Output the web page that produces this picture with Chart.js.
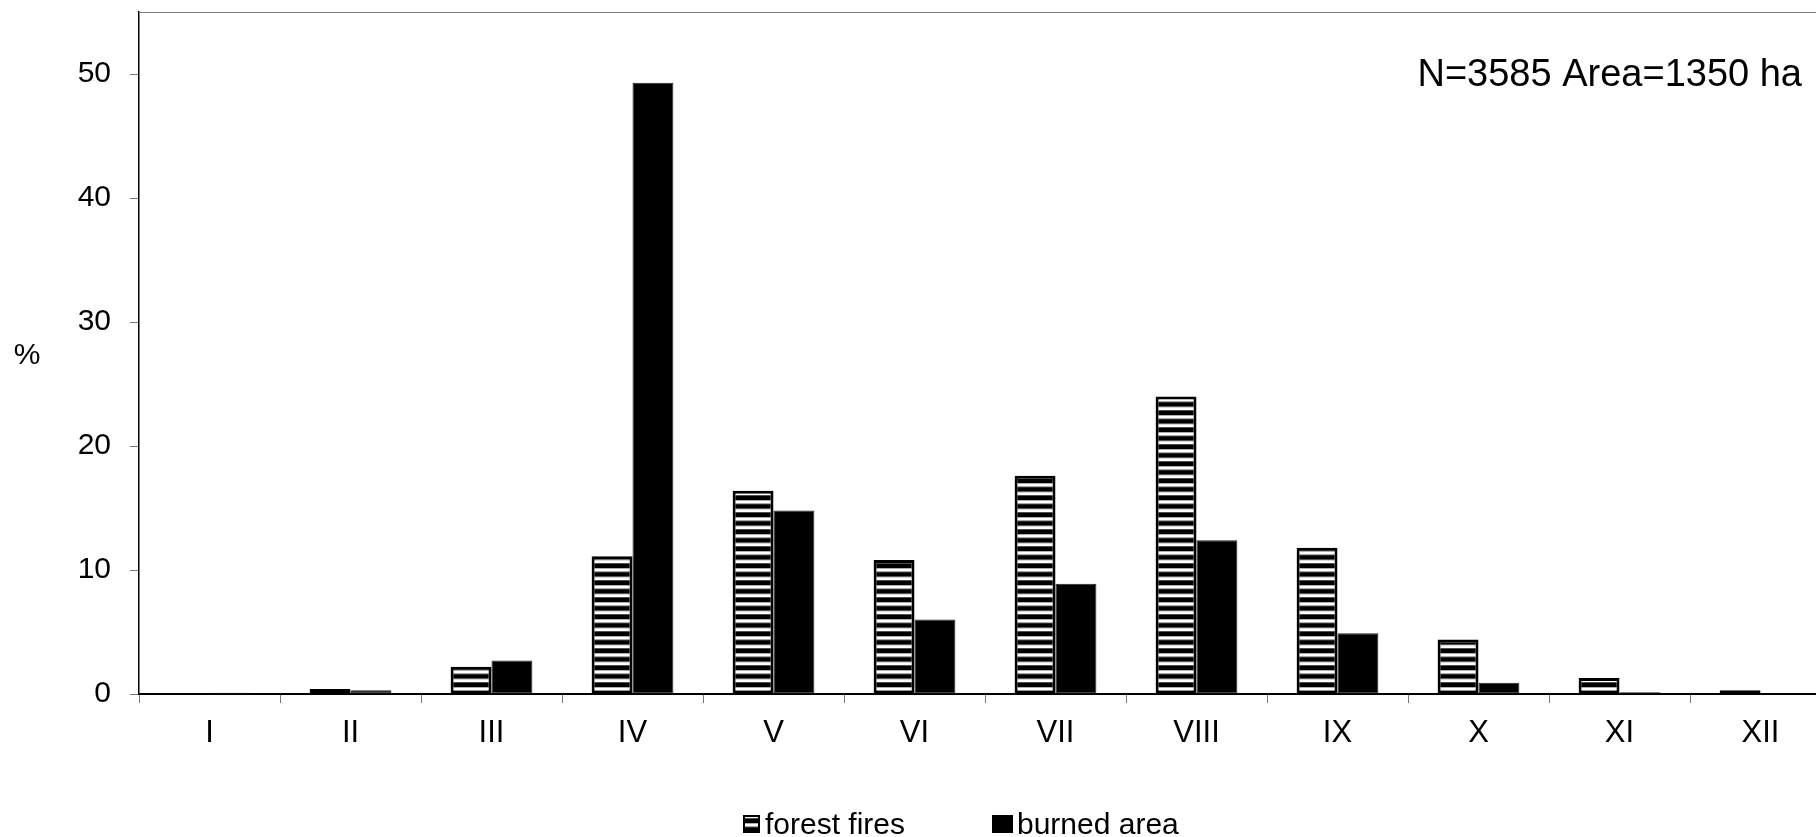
<!DOCTYPE html>
<html>
<head>
<meta charset="utf-8">
<script src="https://cdn.jsdelivr.net/npm/chart.js@4/dist/chart.umd.min.js"></script>
<style>
  html, body { margin: 0; padding: 0; overflow: hidden; background: #fff; }
  #wrap { width: 1840px; height: 837px; }
</style>
</head>
<body>
<div id="wrap"><canvas id="chart" width="1840" height="837"></canvas></div>
<script>
// months in roman numerals, values in % of total
const months = ['I', 'II', 'III', 'IV', 'V', 'VI', 'VII', 'VIII', 'IX', 'X', 'XI', 'XII']
const forestFires = [0.03, 0.4, 2.2, 11.1, 16.4, 10.8, 17.6, 24.0, 11.8, 4.4, 1.3, 0.3]
const burnedArea = [0.1, 0.3, 2.7, 49.3, 14.8, 6.0, 8.9, 12.4, 4.9, 0.9, 0.15, 0.07]
const yTicks = [0, 10, 20, 30, 40, 50]
const seriesNames = ['forest fires', 'burned area']
const note = 'N=3585 Area=1350 ha'
const yTitle = '%'

const FONT = '"Liberation Sans", Arial, sans-serif'

const canvas = document.getElementById('chart')
const ctx = canvas.getContext('2d')

// black fill with thin white horizontal stripes
function makeStripes() {
  const c = document.createElement('canvas')
  c.width = 4
  c.height = 17
  const p = c.getContext('2d')
  p.fillStyle = '#000'
  p.fillRect(0, 0, 4, 17)
  p.fillStyle = '#fff'
  p.fillRect(0, 0, 4, 3.5)
  p.fillRect(0, 8.5, 4, 3.5)
  const pat = ctx.createPattern(c, 'repeat')
  pat.setTransform(new DOMMatrix().translate(0, 7.3))
  return pat
}

const stripes = makeStripes()

const extras = {
  id: 'extras',
  afterDraw(chart) {
    const { ctx, chartArea: a } = chart
    ctx.save()

    // thin frame line on top
    ctx.strokeStyle = '#808080'
    ctx.lineWidth = 1
    ctx.beginPath()
    ctx.moveTo(a.left, a.top + 0.5)
    ctx.lineTo(a.right, a.top + 0.5)
    ctx.stroke()

    ctx.fillStyle = '#000'
    ctx.font = `38px ${FONT}`
    ctx.textAlign = 'right'
    ctx.textBaseline = 'alphabetic'
    ctx.fillText(note, 1802, 86)

    ctx.font = `30px ${FONT}`
    ctx.textAlign = 'center'
    ctx.textBaseline = 'middle'
    ctx.fillText(yTitle, 27, 356)

    // legend
    const items = [
      { x: 743, w: 17, tx: 765 },
      { x: 992, w: 21, tx: 1017 }
    ]
    ctx.textAlign = 'left'
    ctx.textBaseline = 'alphabetic'
    chart.data.datasets.forEach((ds, i) => {
      const it = items[i]
      ctx.fillStyle = ds.backgroundColor
      ctx.fillRect(it.x, 815, it.w, 18)
      ctx.strokeStyle = '#000'
      ctx.lineWidth = 2
      ctx.strokeRect(it.x + 1, 816, it.w - 2, 16)
      ctx.fillStyle = '#000'
      ctx.fillText(ds.label, it.tx, 834)
    })

    ctx.restore()
  }
}

const data = {
  labels: months,
  datasets: [
    {
      label: seriesNames[0],
      data: forestFires,
      backgroundColor: stripes,
      borderColor: '#000',
      borderWidth: 3,
      borderSkipped: false
    },
    {
      label: seriesNames[1],
      data: burnedArea,
      backgroundColor: '#000',
      borderColor: '#222',
      borderWidth: 1,
      borderSkipped: false
    }
  ]
}

const config = {
  type: 'bar',
  data: data,
  plugins: [extras],
  options: {
    responsive: false,
    animation: false,
    devicePixelRatio: 1,
    layout: { padding: { top: 12, right: 9, left: 0, bottom: 0 } },
    datasets: {
      bar: { categoryPercentage: 0.58, barPercentage: 1.0 }
    },
    plugins: {
      legend: { display: false },
      tooltip: { enabled: false }
    },
    scales: {
      x: {
        afterFit: s => { s.height = 143; s.paddingLeft = 0; s.paddingRight = 0 },
        border: { color: '#000', width: 2 },
        grid: { drawOnChartArea: false, drawTicks: true, tickLength: 9, color: '#777', offset: true },
        ticks: { color: '#000', font: { family: FONT, size: 31 }, padding: 12 }
      },
      y: {
        min: 0,
        max: 55,
        afterFit: s => { s.width = 139; s.paddingTop = 0; s.paddingBottom = 0 },
        afterBuildTicks: s => { s.ticks = yTicks.map(v => ({ value: v })) },
        border: { color: '#000', width: 1.5 },
        grid: { drawOnChartArea: false, drawTicks: true, tickLength: 9, color: '#777' },
        ticks: { color: '#000', font: { family: FONT, size: 30 }, padding: 19, stepSize: 10 }
      }
    }
  }
}

const chart = new Chart(canvas, config)
</script>
</body>
</html>
